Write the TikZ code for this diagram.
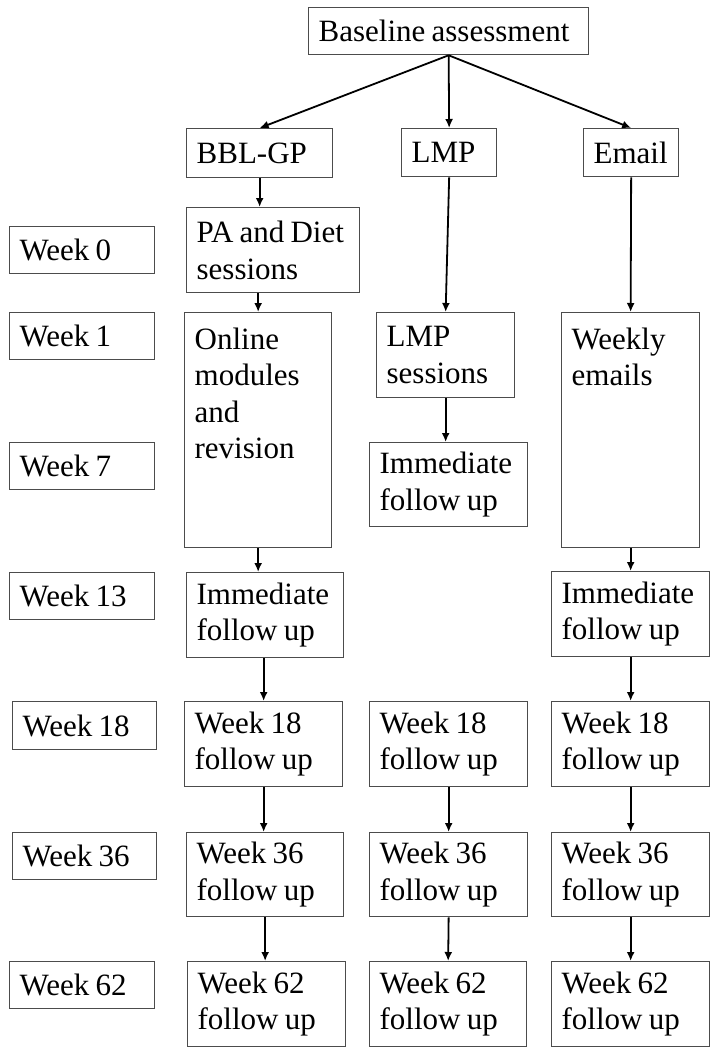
\documentclass[tikz,border=0pt]{standalone}
\usepackage{fontspec}
\setmainfont{Liberation Serif}[WordSpace=0.8]
\usepackage{tikz}
\usetikzlibrary{arrows.meta}

\begin{document}
\begin{tikzpicture} [x = 1pt, y = -1pt,
    box/.style 2 args = {draw = black!70, line width = 1.3pt, anchor = north west,
        inner xsep = 10pt, inner ysep = 0pt, align = flush left,
        text width = #1, minimum height = #2,
        font = \fontsize{31}{36.5}\selectfont},
    link/.style = {-{Latex[length = 9pt, width = 8pt]}, line width = 1.8pt}]

\useasboundingbox (0,0) rectangle (710,1051);

% time line
\node (w0) [box = {125pt}{47pt}] at (9,226) {Week 0};
\node (w1) [box = {125pt}{47pt}] at (9,312) {Week 1};
\node (w7) [box = {125pt}{47pt}] at (9,442) {Week 7};
\node (w13) [box = {125pt}{47pt}] at (9,572) {Week 13};
\node (w18) [box = {124pt}{48pt}] at (12,701) {Week 18};
\node (w36) [box = {124pt}{47pt}] at (12,832) {Week 36};
\node (w62) [box = {125pt}{47pt}] at (9,961) {Week 62};

% arms
\node (base) [box = {260pt}{47pt}] at (308,7) {Baseline assessment};
\node (bbl) [box = {126pt}{49pt}] at (186,128) {BBL-GP};
\node (lmp) [box = {75pt}{48pt}] at (401,128) {LMP};
\node (email) [box = {75pt}{48pt}] at (583,128) {Email};

% BBL-GP
\node (pad) [box = {153pt}{85pt}] at (186,207) {PA and Diet\\sessions};
\node (online) [box = {127pt}{235pt}] at (184,312)
    {\parbox[c][205pt][t]{127pt}{Online\\modules\\and\\revision}};
\node (bblimm) [box = {137pt}{85pt}] at (186,572) {Immediate\\follow up};
\node (bbl18) [box = {138pt}{85pt}] at (184,701) {Week 18\\follow up};
\node (bbl36) [box = {137pt}{84pt}] at (186,832) {Week 36\\follow up};
\node (bbl62) [box = {138pt}{85pt}] at (187,961) {Week 62\\follow up};

% LMP
\node (lmps) [box = {118pt}{85pt}] at (376,312) {LMP\\sessions};
\node (lmpimm) [box = {138pt}{84pt}] at (369,442) {Immediate\\follow up};
\node (lmp18) [box = {138pt}{85pt}] at (369,701) {Week 18\\follow up};
\node (lmp36) [box = {138pt}{84pt}] at (369,832) {Week 36\\follow up};
\node (lmp62) [box = {137pt}{85pt}] at (369,961) {Week 62\\follow up};

% Email
\node (weekly) [box = {118pt}{235pt}] at (561,312)
    {\parbox[c][205pt][t]{118pt}{Weekly\\emails}};
\node (emimm) [box = {138pt}{85pt}] at (551,571) {Immediate\\follow up};
\node (em18) [box = {138pt}{85pt}] at (551,701) {Week 18\\follow up};
\node (em36) [box = {138pt}{84pt}] at (551,832) {Week 36\\follow up};
\node (em62) [box = {138pt}{85pt}] at (551,961) {Week 62\\follow up};

\path [link]
    (base.south) edge (bbl.north)
    (base.south) edge (lmp.north)
    (base.south) edge (email.north);
\path [link]
    (bbl.south) edge (bbl.south |- pad.north)
    (online.north |- pad.south) edge (online.north)
    (online.south) edge (online.south |- bblimm.north)
    (bbl18.north |- bblimm.south) edge (bbl18.north)
    (bbl18.south) edge (bbl18.south |- bbl36.north)
    (bbl36.south) edge (bbl36.south |- bbl62.north);
\path [link]
    (lmp.south) edge (lmps.north)
    (lmps.south) edge (lmps.south |- lmpimm.north)
    (lmp18.south) edge (lmp36.north)
    (lmp36.south) edge (lmp62.north);
\path [link]
    (email.south) edge (weekly.north)
    (weekly.south) edge (emimm.north)
    (emimm.south) edge (em18.north)
    (em18.south) edge (em36.north)
    (em36.south) edge (em62.north);
\end{tikzpicture}
\end{document}
